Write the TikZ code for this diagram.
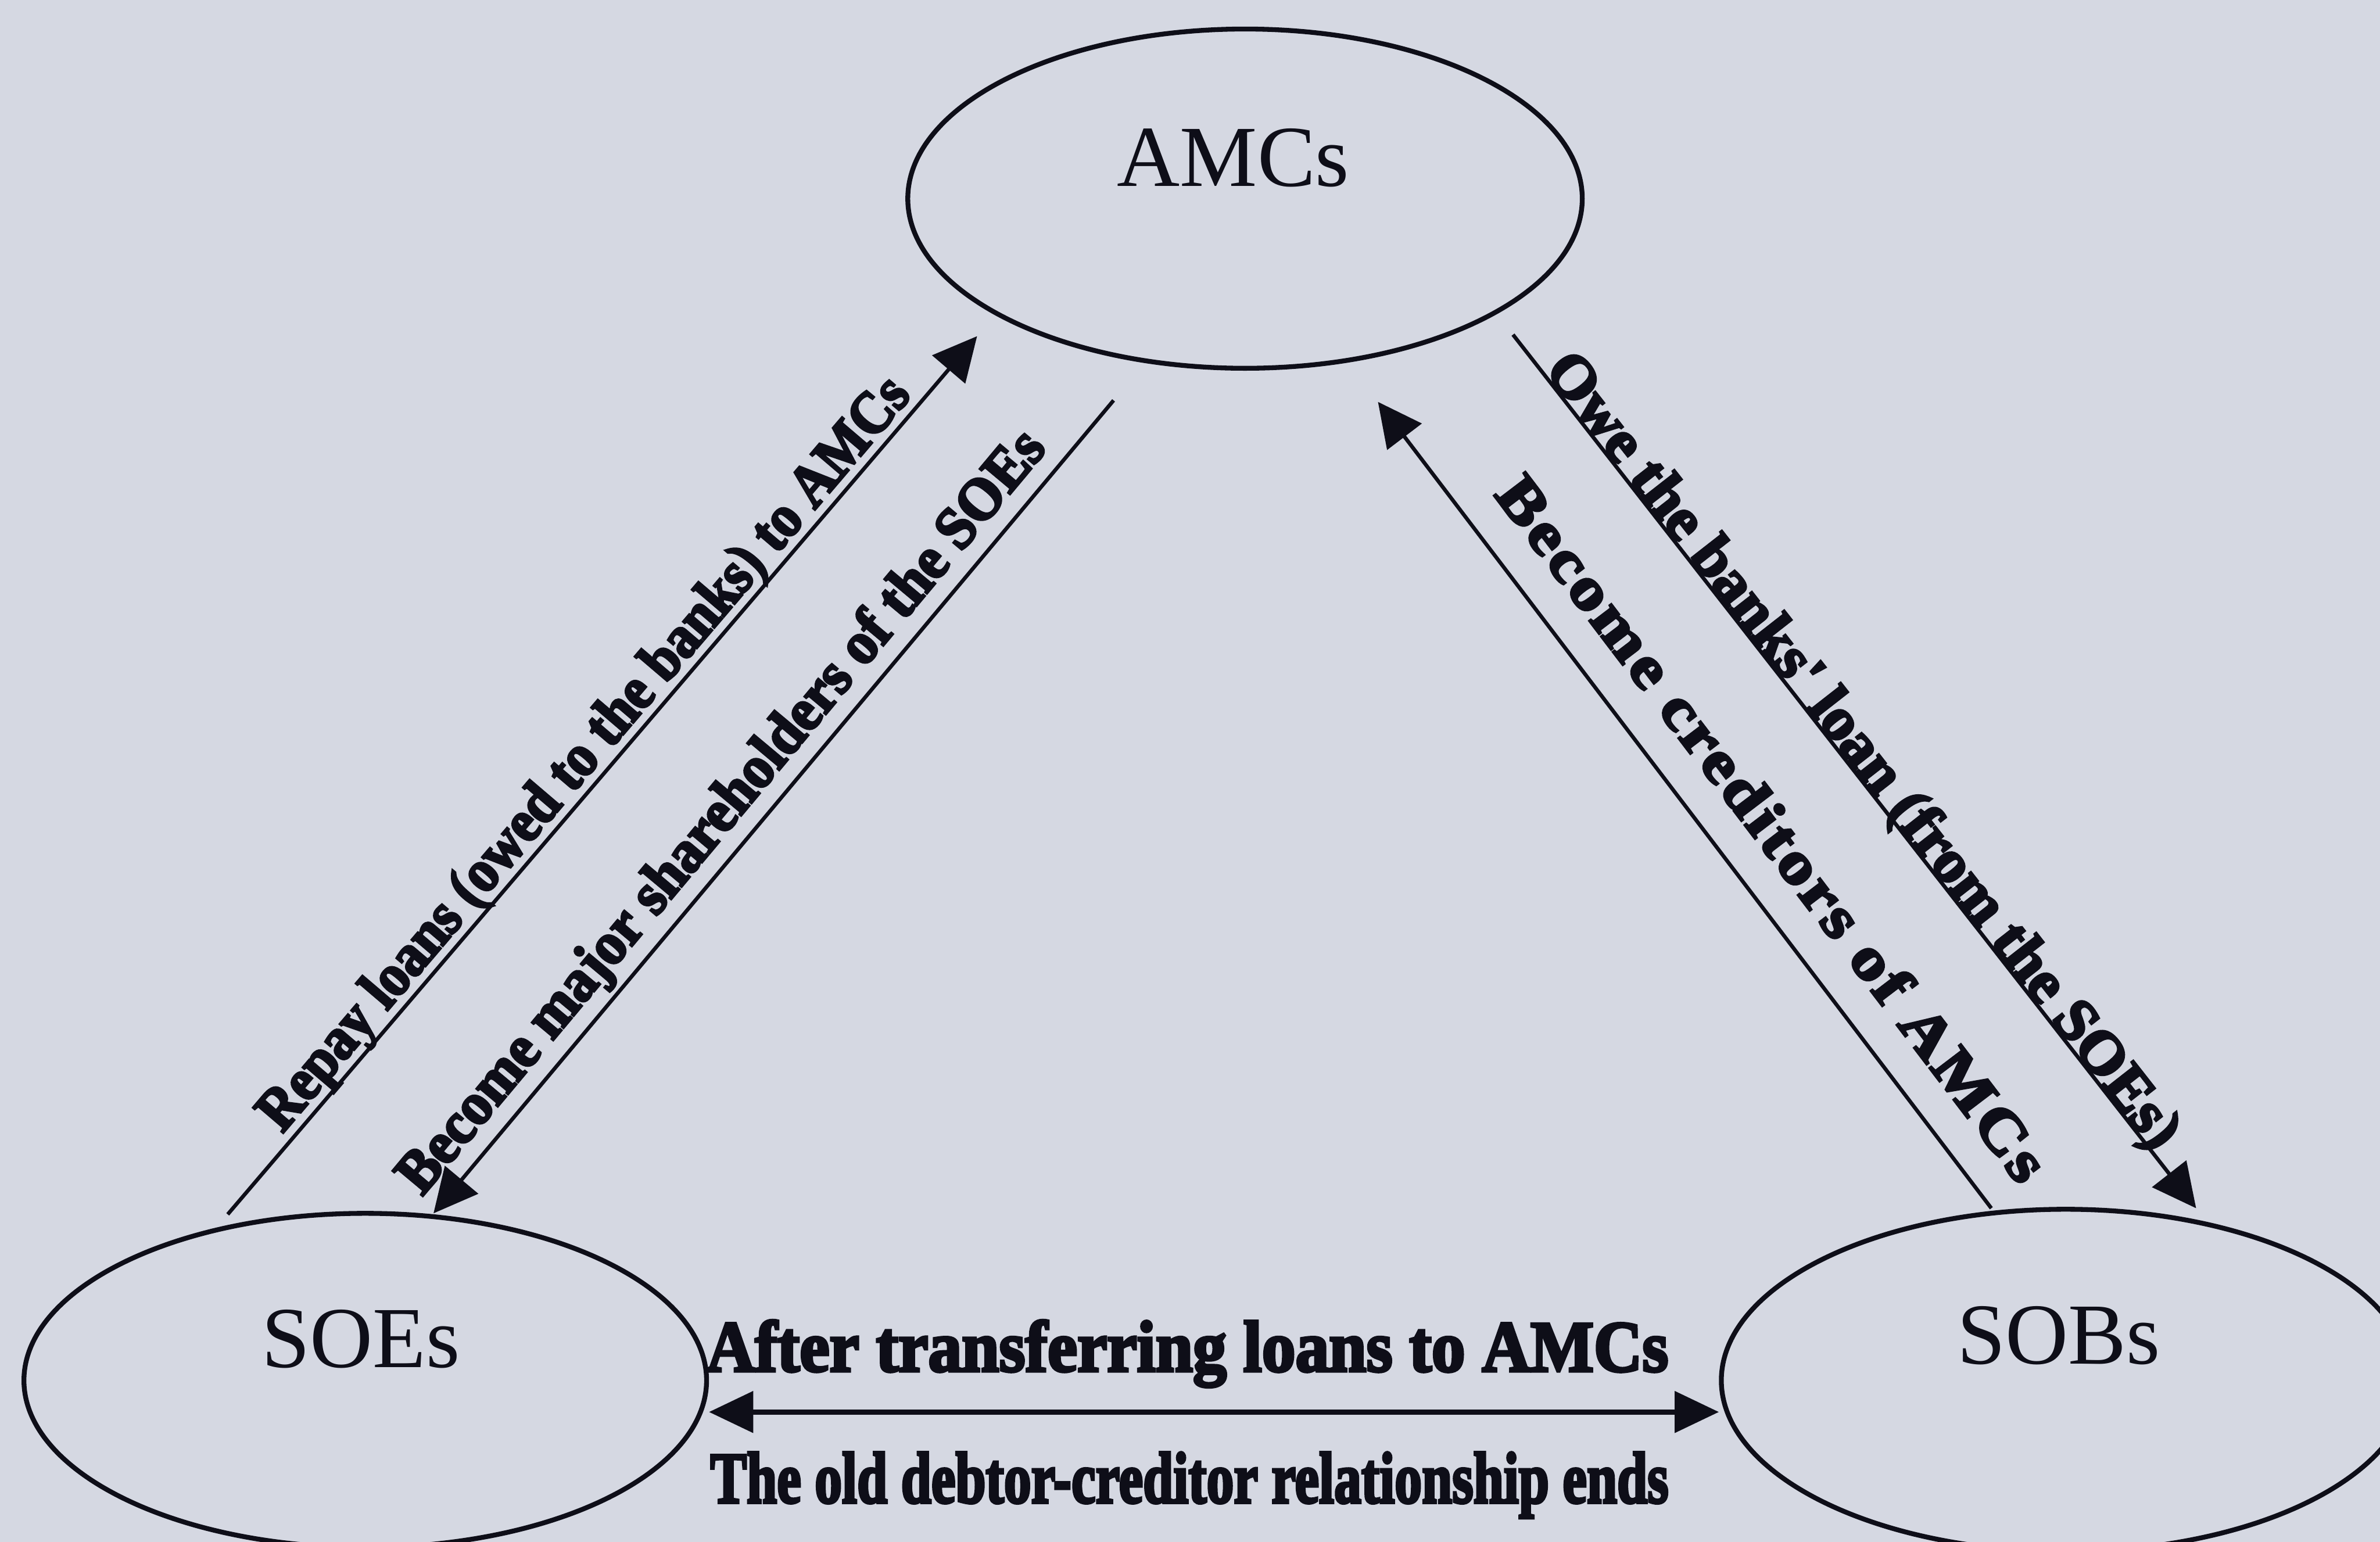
\documentclass[tikz,border=0pt]{standalone}
\usepackage{fontspec}
\usepackage{graphicx}
\setmainfont{Liberation Serif}
\newfontfamily\heavy{Liberation Serif Bold}[FakeBold=4]
\usetikzlibrary{shapes.geometric,arrows.meta,calc}

\definecolor{paper}{RGB}{213,216,226}
\definecolor{ink}{RGB}{14,14,24}

% keep the height of a label, set its width
\newcommand\squeeze[2]{\resizebox{#1}{\height}{#2}}

\tikzset{
  party/.style={ellipse, draw=ink, line width=2.7pt, inner sep=0pt},
  partyname/.style={anchor=base, text=ink, inner sep=0pt,
    font=\fontsize{48.6}{58}\selectfont},
  flow/.style={draw=ink, line width=2.1pt,
    -{Triangle[length=0.86cm,width=0.84cm]}},
  flowtext/.style={anchor=base, text=ink, inner sep=0pt,
    font=\heavy\fontsize{33.5}{38}\selectfont},
  swap/.style={draw=ink, line width=3pt,
    {Triangle[length=0.87cm,width=0.80cm]}-{Triangle[length=0.87cm,width=0.80cm]}},
  swaptext/.style={anchor=base, text=ink, inner sep=0pt,
    font=\heavy\fontsize{40.5}{46}\selectfont},
}

\begin{document}
\begin{tikzpicture}
\useasboundingbox (0,0) rectangle (46.72,30.27);
\fill[paper] (0,0) rectangle (46.72,30.27);

% the three parties
\node[party, minimum width=13.24cm, minimum height=6.66cm] (amc) at (24.44,26.37) {};
\node[party, minimum width=13.40cm, minimum height=6.56cm] (soe) at (7.17,3.17) {};
\node[party, minimum width=13.52cm, minimum height=6.72cm] (sob) at (40.55,3.17) {};

\node[partyname] (amct) at (24.21,26.61) {AMCs};
\node[partyname] (soet) at (7.08,3.42) {SOEs};
\node[partyname] (sobt) at (40.41,3.49) {SOBs};

% ends of the four flows
\coordinate (p1) at (4.47,6.43);
\coordinate (q1) at (19.18,23.67);
\coordinate (p2) at (21.86,22.41);
\coordinate (q2) at (8.51,6.45);
\coordinate (p3) at (29.70,23.70);
\coordinate (q3) at (43.11,6.55);
\coordinate (p4) at (39.09,6.55);
\coordinate (q4) at (27.05,22.38);

\draw[flow] (p1) -- (q1);
\draw[flow] (p2) -- (q2);
\draw[flow] (p3) -- (q3);
\draw[flow] (p4) -- (q4);

\node[flowtext, rotate=49.53] (repayt) at ($(p1)!0.504!(q1)!0.21cm!90:(q1)$)
  {\squeeze{19.05cm}{Repay loans (owed to the banks) to AMCs}};
\node[flowtext, rotate=50.09] (sharet) at ($(q2)!0.465!(p2)!0.38cm!90:(p2)$)
  {\squeeze{19.14cm}{Become major shareholders of the SOEs}};
\node[flowtext, rotate=-51.98] (owet) at ($(p3)!0.49!(q3)!0.04cm!90:(q3)$)
  {\squeeze{19.49cm}{Owe the banks' loan (from the SOEs)}};
\node[flowtext, rotate=-52.74] (credt) at ($(q4)!0.571!(p4)!0.70cm!90:(p4)$)
  {\squeeze{17.06cm}{\addfontfeatures{LetterSpace=5}Become creditors of AMCs}};

% the old debt relation between enterprises and banks
\coordinate (lvl) at (0,2.55);
\draw[swap] (soe.east |- lvl) -- (sob.west |- lvl);
\node[swaptext] (aftert) at (23.31,3.35)
  {\squeeze{18.88cm}{After transferring loans to AMCs}};
\node[swaptext] (oldt) at (23.35,0.77)
  {\squeeze{18.81cm}{The old debtor-creditor relationship ends}};
\end{tikzpicture}
\end{document}
